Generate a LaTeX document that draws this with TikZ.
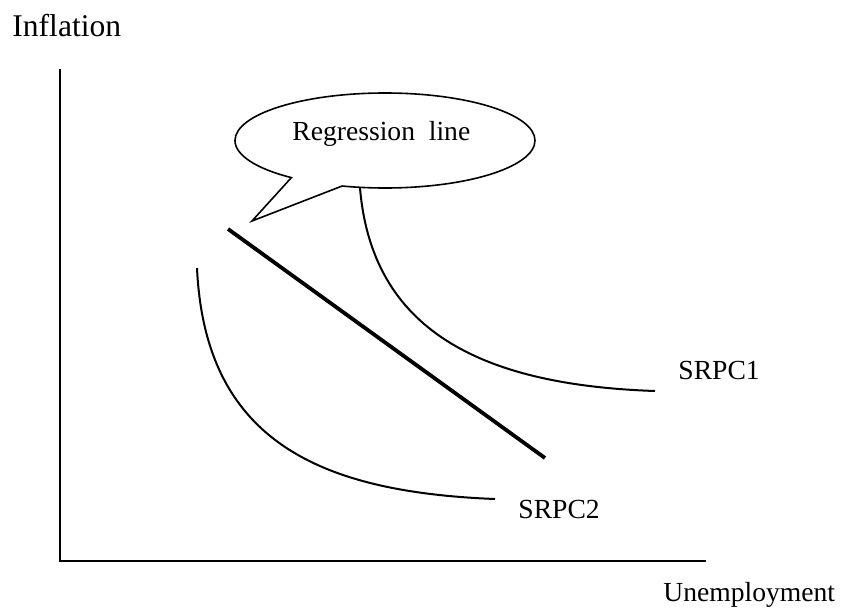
\documentclass[tikz,border=0pt]{standalone}
\usepackage{fontspec}
\setmainfont{Liberation Serif}
\usetikzlibrary{shapes.callouts,positioning}
\tikzset{
  axis/.style={line width=1.1pt,draw=black},
  curve/.style={line width=1pt,draw=black},
  regline/.style={line width=1.9pt,draw=black},
  lbl/.style={font=\fontsize{13.8}{16}\selectfont,inner sep=0pt,anchor=base west},
  bubble/.style={ellipse callout,draw,line width=0.8pt,fill=white,
    minimum width=150pt,minimum height=47.5pt,inner sep=0pt,callout pointer arc=22},
}
\begin{document}
\begin{tikzpicture}[x=0.5pt,y=-0.5pt]
  \useasboundingbox (0,0) rectangle (851,611);
  % axes
  \coordinate (origin) at (60,561);
  \coordinate (ytop) at (60,69);
  \coordinate (xend) at (706,561);
  \draw[axis] (ytop) -- (origin) -- (xend);
  \node[lbl,font=\fontsize{15.8}{18}\selectfont] (inflation) at (12,36) {Inflation};
  \node[lbl] (unemp) at (663,601) {Unemployment};
  % short-run curves
  \coordinate (s1a) at (360,188);
  \coordinate (s1b) at (655,391);
  \draw[curve] (s1a) .. controls (372,330) and (480,385) .. (s1b);
  \node[lbl] (srpc1) at (678,379) {SRPC1};
  \coordinate (s2a) at (197,268);
  \coordinate (s2b) at (495,499);
  \draw[curve] (s2a) .. controls (205,440) and (318,492) .. (s2b);
  \node[lbl] (srpc2) at (518,518) {SRPC2};
  % regression line
  \coordinate (regA) at (228,229);
  \coordinate (regB) at (545,458);
  \draw[regline] (regA) -- (regB);
  % callout
  \coordinate (tip) at (252,221);
  \node[bubble,callout absolute pointer=(tip)] (bubble) at (385,140.5) {};
  \node[lbl] (reglabel) at (292,140) {Regression\ \ line};
\end{tikzpicture}
\end{document}
